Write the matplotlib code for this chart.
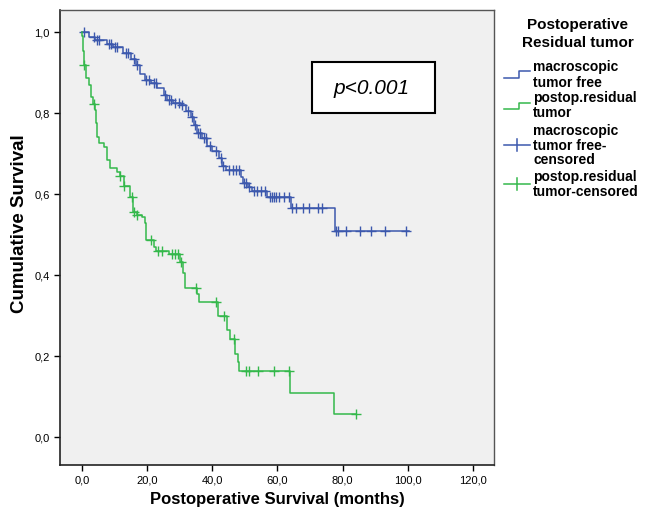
import numpy as np
import matplotlib.pyplot as plt
from matplotlib.lines import Line2D
from matplotlib.patches import Rectangle

plt.rcParams['font.family'] = ['Liberation Sans', 'DejaVu Sans']

# macroscopic tumor free: event times and survival after each event
free_t = [2.0, 4.0, 7.5, 9.5, 12.5, 15.0, 16.5, 17.8, 19.4, 21.0, 23.0, 25.0, 26.2, 28.0,
          30.3, 31.8, 33.3, 34.4, 35.3, 36.8, 38.4, 40.0, 42.0, 43.1, 44.2, 48.7, 49.3,
          50.8, 52.3, 56.9, 64.3, 77.6]
free_s = [0.989, 0.981, 0.972, 0.964, 0.948, 0.935, 0.920, 0.897, 0.883, 0.874, 0.862,
          0.846, 0.834, 0.826, 0.820, 0.805, 0.792, 0.772, 0.752, 0.740, 0.720, 0.706,
          0.690, 0.669, 0.660, 0.644, 0.628, 0.617, 0.609, 0.594, 0.567, 0.510]
free_cens = [0.6, 3.5, 4.6, 5.3, 8.2, 8.8, 10.0, 10.8, 13.6, 14.2, 15.8, 17.0, 19.6, 20.4,
             22.0, 22.8, 25.5, 26.6, 27.4, 28.6, 29.6, 30.8, 32.5, 33.6, 34.8, 35.6,
             36.2, 37.4, 38.0, 39.2, 41.0, 42.6, 43.4, 45.2, 46.2, 47.2, 48.2, 49.6,
             50.2, 51.4, 52.8, 53.8, 55.0, 56.2, 57.6, 58.2, 58.8, 59.6, 60.6, 62.0,
             63.6, 64.6, 65.8, 67.7, 69.8, 72.3, 73.8, 78.0, 78.5, 80.9, 85.4, 88.8,
             92.9, 99.6]
free_end = 100.4

# postop.residual tumor
res_t = [0.1, 0.3, 0.5, 1.1, 2.1, 2.6, 3.3, 4.1, 4.4, 4.6, 5.1, 6.7, 7.7, 8.7, 10.8, 11.5,
         12.8, 14.8, 15.6, 16.8, 18.5, 19.2, 19.5, 22.0, 22.8, 26.6, 30.2, 31.0, 31.6,
         35.4, 35.9, 41.8, 44.6, 45.3, 46.9, 48.0, 48.3, 63.7, 77.3]
res_s = [0.990, 0.955, 0.920, 0.886, 0.870, 0.841, 0.823, 0.808, 0.775, 0.742, 0.726,
         0.718, 0.685, 0.664, 0.656, 0.645, 0.620, 0.594, 0.557, 0.549, 0.545, 0.529,
         0.487, 0.471, 0.460, 0.452, 0.432, 0.405, 0.368, 0.355, 0.335, 0.300, 0.265,
         0.244, 0.207, 0.187, 0.164, 0.110, 0.0575]
res_cens = [0.6, 3.5, 11.7, 13.0, 15.2, 16.0, 17.0, 21.1, 23.2, 24.4, 27.5, 28.5, 29.3,
            30.5, 35.0, 41.1, 43.7, 46.5, 50.4, 51.2, 54.0, 58.8, 63.4, 84.2]
res_end = 84.2

x_ticks = [0, 20, 40, 60, 80, 100, 120]
y_ticks = [0.0, 0.2, 0.4, 0.6, 0.8, 1.0]

blue = '#3c58ad'
green = '#34b84b'


def step_at(t, times, surv):
    idx = np.searchsorted(times, t, side='right')
    s = np.concatenate([[1.0], surv])
    return s[idx]


W, H = 654, 511
fig = plt.figure(figsize=(W / 100, H / 100), dpi=100)
ax = fig.add_axes([60 / W, 1 - 465 / H, 434 / W, 455 / H])
ax.set_facecolor('#f0f0f0')

for times, surv, cens, end, col in [(free_t, free_s, free_cens, free_end, blue),
                                    (res_t, res_s, res_cens, res_end, green)]:
    tt = np.concatenate([[0.0], times, [end]])
    ss = np.concatenate([[1.0], surv, [surv[-1]]])
    ax.step(tt, ss, where='post', color=col, lw=1.1)
    cy = step_at(np.array(cens), np.array(times), np.array(surv))
    ax.plot(cens, cy, ls='none', marker='+', ms=7, mew=1.0, color=col)

ax.set_xlim(-6.8, 126.5)
ax.set_ylim(-0.068, 1.055)
ax.set_xticks(x_ticks)
ax.set_xticklabels([f'{v:.1f}'.replace('.', ',') for v in x_ticks])
ax.set_yticks(y_ticks)
ax.set_yticklabels([f'{v:.1f}'.replace('.', ',') for v in y_ticks])
ax.tick_params(direction='out', length=4, width=1, labelsize=8, colors='black')
for side in ['left', 'bottom']:
    ax.spines[side].set_color('#222222')
    ax.spines[side].set_linewidth(1.2)
for side in ['top', 'right']:
    ax.spines[side].set_color('#555555')
    ax.spines[side].set_linewidth(1.0)
ax.set_xlabel('Postoperative Survival (months)', fontsize=12, fontweight='bold', labelpad=5)
ax.set_ylabel('Cumulative Survival', fontsize=13.5, fontweight='bold')
ax.yaxis.set_label_coords(-0.073, 0.53)

# p-value box
ax.add_patch(Rectangle((312 / W, 1 - 113 / H), 123 / W, 51 / H, transform=fig.transFigure,
                       facecolor='white', edgecolor='black', lw=1.5, zorder=5))
fig.text(372 / W, 1 - 88 / H, 'p<0.001', fontsize=15, style='italic',
         ha='center', va='center', zorder=6)


# legend drawn by hand to mimic SPSS
def fx(x):
    return x / W


def fy(y):
    return 1 - y / H


fig.text(fx(578), fy(25), 'Postoperative', fontsize=11, fontweight='bold', ha='center', va='center')
fig.text(fx(578), fy(43), 'Residual tumor', fontsize=11, fontweight='bold', ha='center', va='center')

entries = [
    (['macroscopic', 'tumor free'], [66.7, 82.7], blue, 'step', 78, 71),
    (['postop.residual', 'tumor'], [98.3, 113.3], green, 'step', 109, 103),
    (['macroscopic', 'tumor free-', 'censored'], [130.7, 146, 160.5], blue, 'cross', 145, None),
    (['postop.residual', 'tumor-censored'], [176.7, 191.7], green, 'cross', 184, None),
]
for lines, ys, col, kind, y0, y1 in entries:
    for txt, y in zip(lines, ys):
        fig.text(fx(533), fy(y), txt, fontsize=10, fontweight='bold', ha='left', va='center')
    if kind == 'step':
        fig.add_artist(Line2D([fx(504), fx(519), fx(519), fx(530)],
                              [fy(y0), fy(y0), fy(y1), fy(y1)], color=col, lw=1.1))
    else:
        fig.add_artist(Line2D([fx(504), fx(530)], [fy(y0), fy(y0)], color=col, lw=1.1))
        fig.add_artist(Line2D([fx(517), fx(517)], [fy(y0 - 6), fy(y0 + 6)], color=col, lw=1.1))

fig.savefig('out.png', dpi=100, facecolor='white')
